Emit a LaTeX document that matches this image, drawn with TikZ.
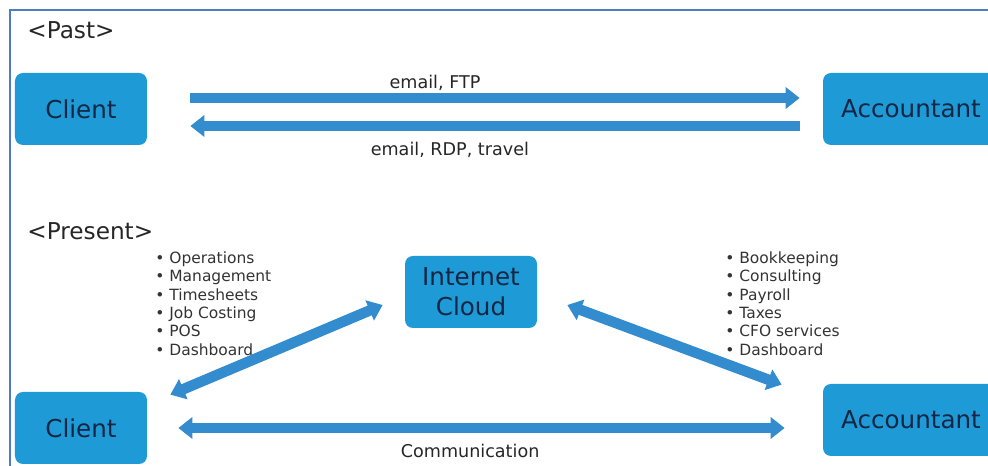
\documentclass[tikz,border=0pt]{standalone}
\usepackage{fontspec}
\setmainfont{DejaVu Sans}
\usetikzlibrary{arrows.meta}
\definecolor{boxblue}{RGB}{30,155,215}
\definecolor{boxtext}{RGB}{20,38,68}
\definecolor{arrblue}{RGB}{50,140,205}
\definecolor{rimblue}{RGB}{75,125,195}

\begin{document}
\begin{tikzpicture}[x=0.2mm, y=-0.2mm,
    bnode/.style={fill=boxblue, rounded corners=1.6mm, text=boxtext, font=\fontsize{14}{17}\selectfont, minimum height=14.4mm, align=center},
    fat/.style={draw=arrblue, line width=6pt, -{Triangle[width=12pt,length=8pt]}},
    dfat/.style={fat, {Triangle[width=12pt,length=8pt]}-{Triangle[width=12pt,length=8pt]}},
    lbl/.style={font=\fontsize{10}{12}\selectfont, text=black!85},
    lst/.style={font=\fontsize{8.8}{10.5}\selectfont, align=left, anchor=north west, inner sep=0pt, text=black!80},
    hd/.style={font=\fontsize{13.2}{15}\selectfont, anchor=west, inner sep=0pt, text=black!85}]
    \clip (0,0) rectangle (988,466);
    \draw[rimblue, line width=1.2pt] (10,466) -- (10,10) -- (988,10);

    % past
    \node[hd] (past) at (27,30) {<Past>};
    \node[bnode, minimum width=26.4mm] (pc) at (81,109) {Client};
    \node[bnode, minimum width=35.2mm] (pa) at (911,109) {Accountant};

    \draw[fat, shorten <=8.6mm, shorten >=4.6mm] ([yshift=2.2mm]pc.east) to node [lbl, pos=0.426, above=-0.8mm] {email, FTP} ([yshift=2.2mm]pa.west);
    \draw[fat, shorten <=4.6mm, shorten >=8.6mm] ([yshift=-3.4mm]pa.west) to node [lbl, pos=0.552, below=1mm] {email, RDP, travel} ([yshift=-3.4mm]pc.east);

    % present
    \node[hd] (present) at (27,231) {<Present>};
    \node[bnode, minimum width=26.4mm] (nc) at (81,428) {Client};
    \node[bnode, minimum width=35.2mm] (na) at (911,420) {Accountant};
    \node[bnode, minimum width=26.4mm] (cloud) at (471,292) {Internet\\Cloud};

    \node[lst] (clist) at (155,251) {\textbullet\ Operations\\ \textbullet\ Management\\ \textbullet\ Timesheets\\ \textbullet\ Job Costing\\ \textbullet\ POS\\ \textbullet\ Dashboard};
    \node[lst] (alist) at (725,251) {\textbullet\ Bookkeeping\\ \textbullet\ Consulting\\ \textbullet\ Payroll\\ \textbullet\ Taxes\\ \textbullet\ CFO services\\ \textbullet\ Dashboard};

    \draw[dfat] ([shift={(23,3)}]nc.north east) to ([shift={(-22,13)}]cloud.west);
    \draw[dfat] ([shift={(30,13)}]cloud.east) to ([shift={(-41,1)}]na.north west);
    \draw[dfat, shorten <=6.2mm, shorten >=7.6mm] (nc.east) to node [lbl, pos=0.478, below=1mm] {Communication} (nc.east -| na.west);
\end{tikzpicture}
\end{document}
